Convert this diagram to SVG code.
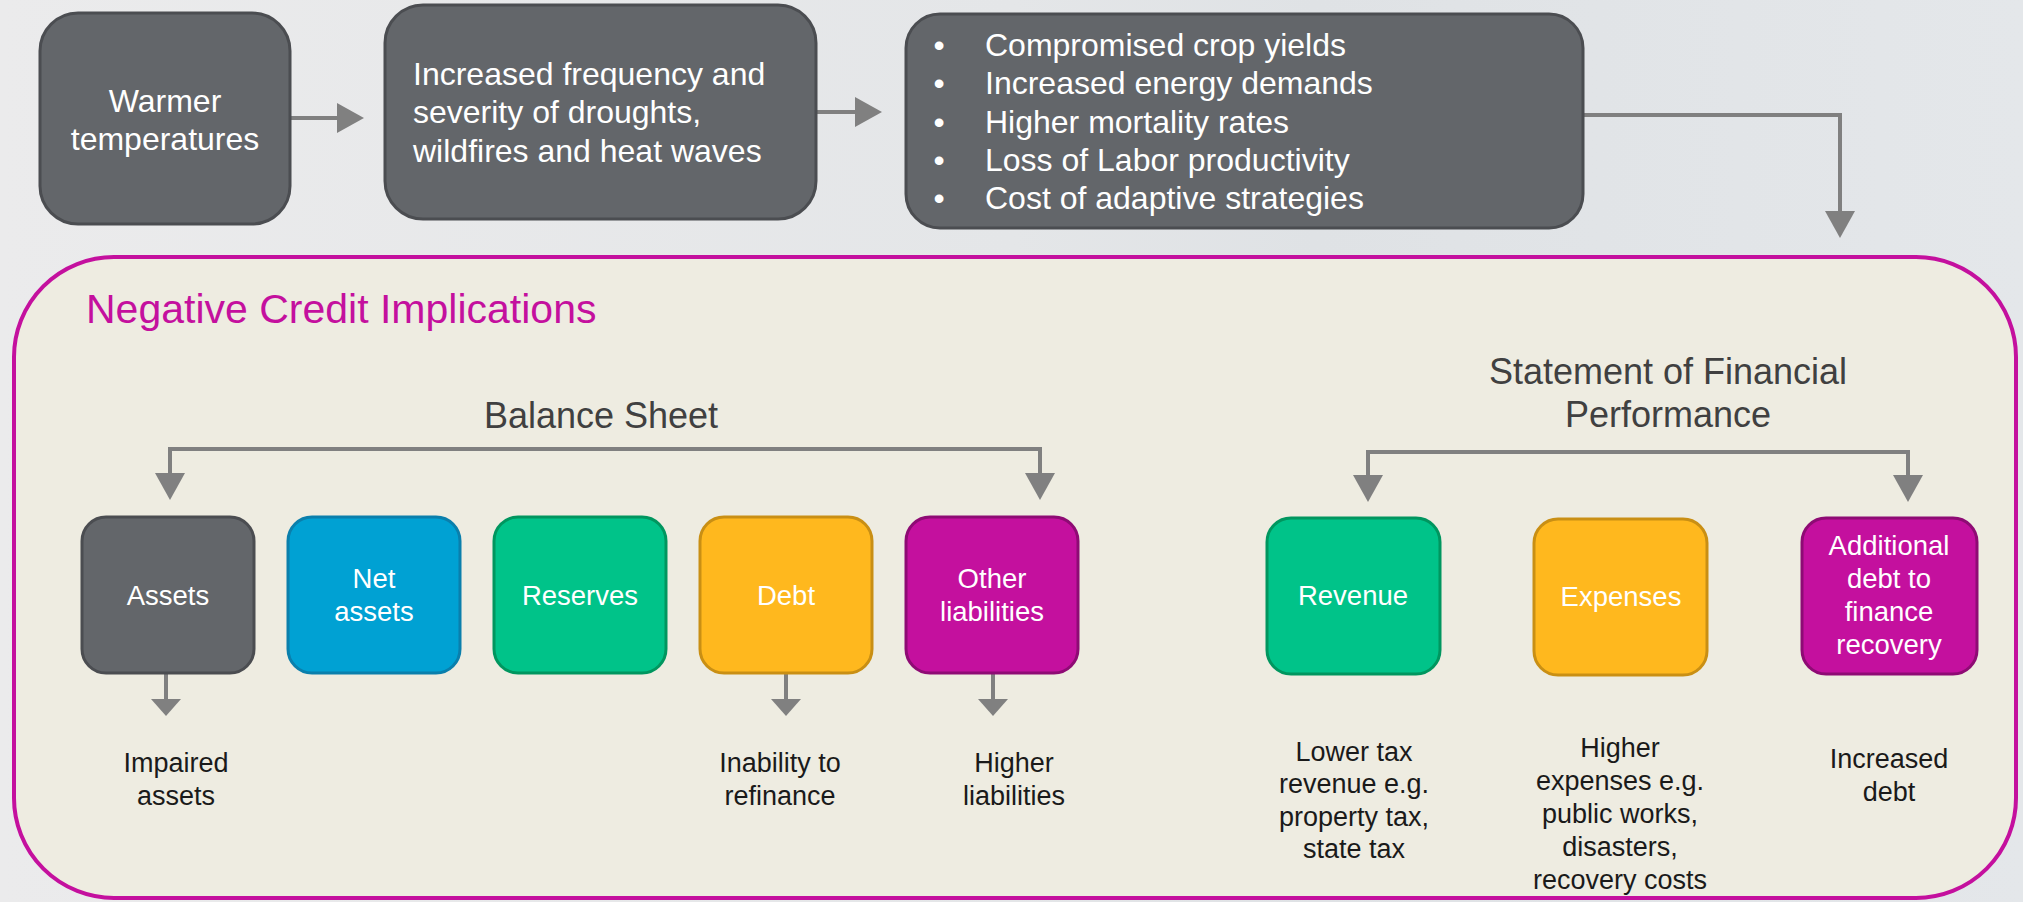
<svg xmlns="http://www.w3.org/2000/svg" width="2023" height="902" viewBox="0 0 2023 902">
<defs>
<linearGradient id="bg" x1="0" y1="0" x2="1" y2="0">
<stop offset="0" stop-color="#ebebec"/>
<stop offset="0.5" stop-color="#e4e6e8"/>
<stop offset="0.65" stop-color="#dfe2e5"/>
<stop offset="1" stop-color="#e4e7ea"/>
</linearGradient>
<marker id="ah" markerUnits="userSpaceOnUse" markerWidth="28" markerHeight="30" viewBox="0 0 28 30" refX="1" refY="15" orient="auto">
<path d="M0,0 L27,15 L0,30 Z" fill="#808080"/>
</marker>
<marker id="ahs" markerUnits="userSpaceOnUse" markerWidth="18" markerHeight="30" viewBox="0 0 18 30" refX="1" refY="15" orient="auto">
<path d="M0,0 L17,15 L0,30 Z" fill="#808080"/>
</marker>
</defs>
<style>
.t{font-family:"Liberation Sans",Arial,sans-serif}
.w32{font-size:32px;fill:#ffffff}
.w27{font-size:27.5px;fill:#ffffff}
.hd{font-size:36px;fill:#404040}
.lb{font-size:27px;fill:#1a1a1a}
.mid{text-anchor:middle}
.dark{fill:#63666a;stroke:#4b4d51;stroke-width:3}
.blue{fill:#00a1d3;stroke:#0a7fac;stroke-width:3}
.green{fill:#00c389;stroke:#00965f;stroke-width:3}
.yellow{fill:#ffb81e;stroke:#c98f14;stroke-width:3}
.mag{fill:#c4109e;stroke:#8e0b74;stroke-width:3}
.cn{fill:none;stroke:#808080;stroke-width:4}
</style>
<rect x="0" y="0" width="2023" height="902" fill="url(#bg)"/>
<g id="container">
<rect x="14" y="257" width="2002" height="641" rx="100" ry="100" fill="#eeece1" stroke="#c4109e" stroke-width="4"/>
<text class="t" x="86" y="323" font-size="41" fill="#c4109e">Negative Credit Implications</text>
<text class="t hd mid" x="601" y="428">Balance Sheet</text>
<text class="t hd mid" x="1668" y="384">Statement of Financial</text>
<text class="t hd mid" x="1668" y="427">Performance</text>
</g>
<g id="connectors">
<path class="cn" d="M290,118 H338" marker-end="url(#ah)"/>
<path class="cn" d="M816,112 H856" marker-end="url(#ah)"/>
<path class="cn" d="M1583,115 H1840 V212" marker-end="url(#ah)"/>
<path class="cn" d="M605,449 H170 V474" marker-end="url(#ah)"/>
<path class="cn" d="M605,449 H1040 V474" marker-end="url(#ah)"/>
<path class="cn" d="M1638,452 H1368 V476" marker-end="url(#ah)"/>
<path class="cn" d="M1638,452 H1908 V476" marker-end="url(#ah)"/>
<path class="cn" d="M166,673 V700" marker-end="url(#ahs)"/>
<path class="cn" d="M786,673 V700" marker-end="url(#ahs)"/>
<path class="cn" d="M993,673 V700" marker-end="url(#ahs)"/>
</g>
<g id="warmer">
<rect class="dark" x="40" y="13" width="250" height="211" rx="38"/>
<text class="t w32 mid" x="165" y="112">Warmer</text>
<text class="t w32 mid" x="165" y="150">temperatures</text>
</g>
<g id="droughts">
<rect class="dark" x="385" y="5" width="431" height="214" rx="38"/>
<text class="t w32" x="413" y="85">Increased frequency and</text>
<text class="t w32" x="413" y="123">severity of droughts,</text>
<text class="t w32" x="413" y="162">wildfires and heat waves</text>
</g>
<g id="impacts">
<rect class="dark" x="906" y="14" width="677" height="214" rx="34"/>
<g class="t w32">
<text class="mid" x="939" y="56">•</text><text x="985" y="56">Compromised crop yields</text>
<text class="mid" x="939" y="94">•</text><text x="985" y="94">Increased energy demands</text>
<text class="mid" x="939" y="133">•</text><text x="985" y="133">Higher mortality rates</text>
<text class="mid" x="939" y="171">•</text><text x="985" y="171">Loss of Labor productivity</text>
<text class="mid" x="939" y="209">•</text><text x="985" y="209">Cost of adaptive strategies</text>
</g>
</g>
<g id="assets">
<rect class="dark" x="82" y="517" width="172" height="156" rx="24"/>
<text class="t w27 mid" x="168" y="605">Assets</text>
</g>
<g id="net-assets">
<rect class="blue" x="288" y="517" width="172" height="156" rx="24"/>
<text class="t w27 mid" x="374" y="588">Net</text>
<text class="t w27 mid" x="374" y="621">assets</text>
</g>
<g id="reserves">
<rect class="green" x="494" y="517" width="172" height="156" rx="24"/>
<text class="t w27 mid" x="580" y="605">Reserves</text>
</g>
<g id="debt">
<rect class="yellow" x="700" y="517" width="172" height="156" rx="24"/>
<text class="t w27 mid" x="786" y="605">Debt</text>
</g>
<g id="other-liabilities">
<rect class="mag" x="906" y="517" width="172" height="156" rx="24"/>
<text class="t w27 mid" x="992" y="588">Other</text>
<text class="t w27 mid" x="992" y="621">liabilities</text>
</g>
<g id="revenue">
<rect class="green" x="1267" y="518" width="173" height="156" rx="24"/>
<text class="t w27 mid" x="1353" y="605">Revenue</text>
</g>
<g id="expenses">
<rect class="yellow" x="1534" y="519" width="173" height="156" rx="24"/>
<text class="t w27 mid" x="1621" y="606">Expenses</text>
</g>
<g id="additional-debt">
<rect class="mag" x="1802" y="518" width="175" height="156" rx="24"/>
<text class="t w27 mid" x="1889" y="555">Additional</text>
<text class="t w27 mid" x="1889" y="588">debt to</text>
<text class="t w27 mid" x="1889" y="621">finance</text>
<text class="t w27 mid" x="1889" y="654">recovery</text>
</g>
<g id="impaired-assets" class="t lb">
<text class="mid" x="176" y="772">Impaired</text>
<text class="mid" x="176" y="805">assets</text>
</g>
<g id="inability" class="t lb">
<text class="mid" x="780" y="772">Inability to</text>
<text class="mid" x="780" y="805">refinance</text>
</g>
<g id="higher-liabilities" class="t lb">
<text class="mid" x="1014" y="772">Higher</text>
<text class="mid" x="1014" y="805">liabilities</text>
</g>
<g id="lower-tax" class="t lb">
<text class="mid" x="1354" y="761">Lower tax</text>
<text class="mid" x="1354" y="793">revenue e.g.</text>
<text class="mid" x="1354" y="826">property tax,</text>
<text class="mid" x="1354" y="858">state tax</text>
</g>
<g id="higher-expenses" class="t lb">
<text class="mid" x="1620" y="757">Higher</text>
<text class="mid" x="1620" y="790">expenses e.g.</text>
<text class="mid" x="1620" y="823">public works,</text>
<text class="mid" x="1620" y="856">disasters,</text>
<text class="mid" x="1620" y="889">recovery costs</text>
</g>
<g id="increased-debt" class="t lb">
<text class="mid" x="1889" y="768">Increased</text>
<text class="mid" x="1889" y="801">debt</text>
</g>
</svg>
